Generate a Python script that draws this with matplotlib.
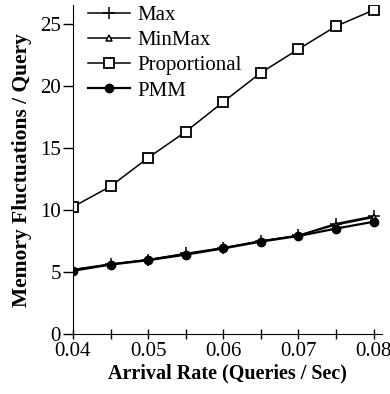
import numpy as np
import matplotlib.pyplot as plt
from matplotlib.ticker import MultipleLocator

# arrival rates (queries / sec)
rates = [0.04, 0.045, 0.05, 0.055, 0.06, 0.065, 0.07, 0.075, 0.08]

# memory fluctuations per query
max_vals = [5.2, 5.65, 6.0, 6.5, 6.95, 7.5, 7.95, 8.9, 9.5]
minmax_vals = [5.2, 5.6, 6.0, 6.45, 6.95, 7.5, 7.95, 8.8, 9.4]
prop_vals = [10.25, 11.9, 14.2, 16.3, 18.7, 21.05, 22.95, 24.8, 26.1]
pmm_vals = [5.1, 5.6, 5.95, 6.4, 6.9, 7.45, 7.9, 8.5, 9.05]

plt.rcParams['font.family'] = ['Liberation Serif', 'DejaVu Serif']

fig = plt.figure(figsize=(3.9, 3.94), dpi=100)
ax = fig.add_axes([0.187, 0.152, 0.792, 0.835])

ax.plot(rates, max_vals, color='black', lw=1.1, marker='+', ms=8, mew=1.1, label='Max')
ax.plot(rates, minmax_vals, color='black', lw=1.1, marker='^', ms=5, mfc='white', mew=1.1, label='MinMax')
ax.plot(rates, prop_vals, color='black', lw=1.1, marker='s', ms=7, mfc='white', mew=1.3, label='Proportional')
ax.plot(rates, pmm_vals, color='black', lw=1.6, marker='o', ms=6, label='PMM')

ax.set_xlim(0.04, 0.0811)
ax.set_ylim(0, 26.5)
ax.xaxis.set_minor_locator(MultipleLocator(0.005))
ax.yaxis.set_major_locator(MultipleLocator(5))
ax.set_xticks([0.04, 0.05, 0.06, 0.07, 0.08])
ax.set_xticklabels(['0.04', '0.05', '0.06', '0.07', '0.08'])

ax.spines['top'].set_visible(False)
ax.spines['right'].set_visible(False)
ax.tick_params(axis='x', which='both', direction='inout', length=7, width=1, labelsize=15, pad=2)
ax.tick_params(axis='y', direction='out', length=7, width=1, labelsize=15, pad=1.5)

ax.set_xlabel('Arrival Rate (Queries / Sec)', fontsize=14.5, fontweight='bold', labelpad=2)
ax.set_ylabel('Memory Fluctuations / Query', fontsize=15.5, fontweight='bold', labelpad=6)

ax.legend(loc='upper left', frameon=False, fontsize=15, handlelength=2.0,
          handletextpad=0.35, labelspacing=0.27, borderaxespad=0.2,
          borderpad=0.1, bbox_to_anchor=(0.03, 1.018))

fig.savefig('out.png', dpi=100)
